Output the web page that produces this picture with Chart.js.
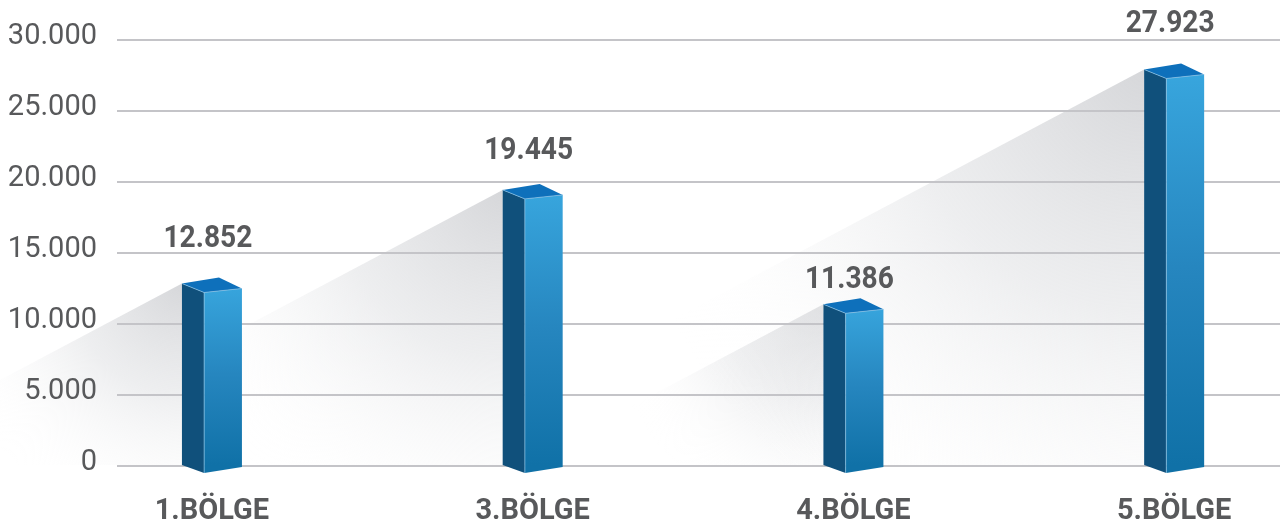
<!DOCTYPE html>
<html lang="tr">
<head>
    <meta charset="UTF-8">
    <title>Bölgeler</title>
    <script src="https://cdn.jsdelivr.net/npm/chart.js"></script>
    <style>
        html, body { margin: 0; padding: 0; background: #fff; }
        .chart-wrap { position: relative; width: 1280px; height: 531px; }
    </style>
</head>
<body>
    <div class="chart-wrap"><canvas id="barChart"></canvas></div>
    <script>
        // Data
        const categories = ['1.BÖLGE', '3.BÖLGE', '4.BÖLGE', '5.BÖLGE'];
        const values = [12852, 19445, 11386, 27923];
        const yTicks = [0, 5000, 10000, 15000, 20000, 25000, 30000];

        const FONT = "Roboto, 'DejaVu Sans Condensed', sans-serif";
        const TEXT = '#58595b';

        // 30000 -> "30.000"
        const fmt = v => String(v).replace(/\B(?=(\d{3})+(?!\d))/g, '.');

        // soft grey wedge left of every bar (under the grid lines)
        const shadowPlugin = {
            id: 'barShadow',
            beforeDraw(chart) {
                const ctx = chart.ctx;
                chart.getDatasetMeta(0).data.forEach(bar => {
                    const xl = bar.x - bar.width / 2;
                    const top = bar.y, base = bar.base;
                    const h = base - top;
                    const len = h / 0.53;
                    ctx.save();
                    ctx.beginPath();
                    ctx.moveTo(xl, top);
                    ctx.lineTo(xl - len, top + len * 0.53);
                    ctx.lineTo(xl, base);
                    ctx.closePath();
                    const g = ctx.createRadialGradient(xl, top, 0, xl, top, h * 1.35);
                    g.addColorStop(0, 'rgba(212,213,216,0.95)');
                    g.addColorStop(0.45, 'rgba(230,231,233,0.7)');
                    g.addColorStop(1, 'rgba(255,255,255,0)');
                    ctx.fillStyle = g;
                    ctx.fill();
                    ctx.restore();
                });
            }
        };

        // draws the bars as little 3D boxes plus the value on top
        const boxPlugin = {
            id: 'box3d',
            afterDatasetsDraw(chart, args, opts) {
                const ctx = chart.ctx;
                chart.getDatasetMeta(0).data.forEach((bar, i) => {
                    const x = bar.x, w = bar.width;
                    const l = x - w / 2, r = x + w / 2, m = l + w * 0.37;
                    const top = bar.y, base = bar.base;

                    // left side
                    ctx.fillStyle = '#10507b';
                    ctx.beginPath();
                    ctx.moveTo(l, top);
                    ctx.lineTo(m, top + 9);
                    ctx.lineTo(m, base + 8);
                    ctx.lineTo(l, base);
                    ctx.closePath();
                    ctx.fill();

                    // front
                    const gf = ctx.createLinearGradient(0, top, 0, base);
                    gf.addColorStop(0, '#38a6de');
                    gf.addColorStop(0.5, '#2686bf');
                    gf.addColorStop(1, '#1071a7');
                    ctx.fillStyle = gf;
                    ctx.beginPath();
                    ctx.moveTo(m, top + 9);
                    ctx.lineTo(r, top + 5);
                    ctx.lineTo(r, base + 2);
                    ctx.lineTo(m, base + 8);
                    ctx.closePath();
                    ctx.fill();

                    // top
                    ctx.fillStyle = '#0e70bb';
                    ctx.beginPath();
                    ctx.moveTo(l, top);
                    ctx.lineTo(x + 7, top - 6);
                    ctx.lineTo(r, top + 5);
                    ctx.lineTo(m, top + 9);
                    ctx.closePath();
                    ctx.fill();

                    // thin light edges
                    ctx.strokeStyle = 'rgba(140,195,230,0.7)';
                    ctx.lineWidth = 1;
                    ctx.beginPath();
                    ctx.moveTo(l, top);
                    ctx.lineTo(m, top + 9);
                    ctx.lineTo(r, top + 5);
                    ctx.moveTo(m, top + 9);
                    ctx.lineTo(m, base + 8);
                    ctx.stroke();

                    // value label, slightly condensed like the original
                    ctx.save();
                    ctx.translate(x - 4, top - opts.lift[i]);
                    ctx.scale(0.88, 1);
                    ctx.fillStyle = TEXT;
                    ctx.font = 'bold 32px ' + FONT;
                    ctx.textAlign = 'center';
                    ctx.textBaseline = 'alphabetic';
                    ctx.fillText(fmt(values[i]), 0, 0);
                    ctx.restore();
                });
            }
        };

        const ctx = document.getElementById('barChart').getContext('2d');
        const barChart = new Chart(ctx, {
            type: 'bar',
            data: {
                datasets: [{
                    data: values.map((v, i) => ({ x: i, y: v })),
                    backgroundColor: 'rgba(0,0,0,0)',
                    borderWidth: 0,
                    barThickness: 60
                }]
            },
            plugins: [shadowPlugin, boxPlugin],
            options: {
                responsive: true,
                maintainAspectRatio: false,
                animation: false,
                layout: { padding: { top: 40, right: 0, left: 0, bottom: 0 } },
                plugins: {
                    legend: { display: false },
                    tooltip: { enabled: false },
                    box3d: { lift: [37, 31, 16, 37] }
                },
                scales: {
                    x: {
                        type: 'linear',
                        offset: false,
                        min: -0.296,
                        max: 3.33,
                        grid: { display: false, offset: false, drawTicks: false },
                        border: { display: false },
                        afterBuildTicks: scale => {
                            scale.ticks = categories.map((c, i) => ({ value: i }));
                        },
                        afterFit: scale => { scale.height = 65; },
                        ticks: {
                            padding: 28,
                            maxRotation: 0,
                            color: TEXT,
                            font: { family: FONT, size: 29, weight: 'bold' },
                            callback: v => categories[v] || ''
                        }
                    },
                    y: {
                        min: 0,
                        max: 30000,
                        afterBuildTicks: scale => {
                            scale.ticks = yTicks.map(v => ({ value: v }));
                        },
                        afterFit: scale => { scale.width = 117; },
                        grid: { color: '#c4c4c8', lineWidth: 2, drawTicks: false },
                        border: { display: false },
                        ticks: {
                            padding: 20,
                            labelOffset: -3,
                            color: TEXT,
                            font: { family: FONT, size: 29 },
                            callback: v => fmt(v)
                        }
                    }
                }
            }
        });
    </script>
</body>
</html>
